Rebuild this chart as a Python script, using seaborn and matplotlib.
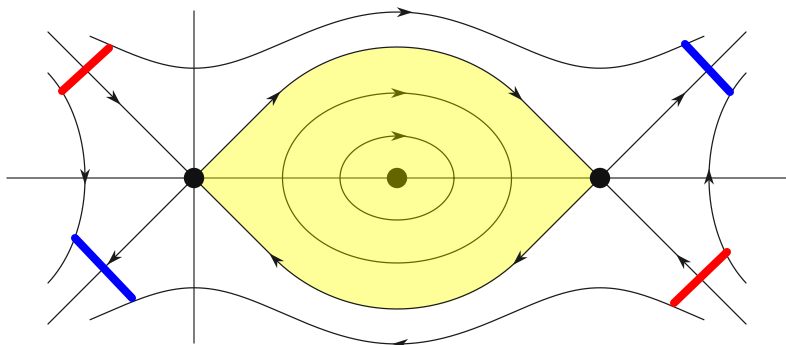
import numpy as np
import pandas as pd
import matplotlib
matplotlib.use("Agg")
import matplotlib.pyplot as plt
import seaborn as sns

sns.set_theme(style="white")

# Phase plane of the pendulum-like system: saddles at +-pi, centre at 0
saddle_x = [-np.pi, np.pi]
centre_xy = (0.0, 0.0)

# closed orbits around the centre (semi-axes)
orbit_a = [0.882, 1.772]
orbit_b = [0.650, 1.315]

# separatrix: straight run from each saddle, then a circular cap
sep_height = 2.027
sep_radius = (np.pi - sep_height) / (np.sqrt(2) - 1)

# rotating orbits y = +-k*sqrt(E + cos x)
rot_k = 1.362
rot_E = 2.556
rot_xmax = 4.75

# libration orbits around +-2pi (only their inner arcs are visible)
side_a = 1.455
side_b = 2.043
side_ymax = 1.625

# stable / unstable manifolds leaving the saddles
diag_len = 2.26

# transversal sections (x0, y0, x1, y1, colour)
bars_x0 = [-5.184, -4.983, 4.457, 4.287]
bars_y0 = [1.346, -0.929, 2.074, -1.934]
bars_x1 = [-4.457, -4.101, 5.153, 5.107]
bars_y1 = [2.012, -1.857, 1.331, -1.145]
bars_col = ["#ff0000", "#0000ff", "#0000ff", "#ff0000"]

PX = 203 / np.pi  # pixels per unit
fig = plt.figure(figsize=(7.86, 3.45), dpi=100)
ax = fig.add_axes([0, 0, 1, 1])
ax.set_xlim(-397 / PX, 389 / PX)
ax.set_ylim(-167 / PX, 178 / PX)
ax.set_axis_off()

LW = 0.9
INK = "#1a1a1a"


def curve(x, y, color=INK, lw=LW, z=4):
    df = pd.DataFrame({"x": x, "y": y})
    sns.lineplot(data=df, x="x", y="y", sort=False, estimator=None,
                 color=color, linewidth=lw, ax=ax, zorder=z, legend=False)


def arrowhead(x, y, dx, dy, color=INK, z=5):
    d = np.array([dx, dy], float)
    d /= np.hypot(*d)
    n = np.array([-d[1], d[0]])
    L, W, notch = 16 / PX, 5.0 / PX, 4.8 / PX
    c = np.array([x, y])
    tip = c + d * L / 2
    back = c - d * L / 2
    pts = np.array([tip, back + n * W, back + d * notch, back - n * W])
    ax.fill(pts[:, 0], pts[:, 1], color=color, lw=0, zorder=z)


# coordinate axes
curve([-6.035, 389 / PX], [0, 0], color="#555555", lw=1.1, z=1)
curve([-np.pi, -np.pi], [-2.553, 2.584], color="#555555", lw=1.1, z=1)

# closed orbits around the centre (sit under the shaded basin)
t = np.linspace(0, 2 * np.pi, 400)
for a, b in zip(orbit_a, orbit_b):
    curve(a * np.cos(t), b * np.sin(t), color="black", lw=LW, z=2)
    arrowhead(0.03, b, 1, 0, color="black", z=2)
sns.scatterplot(x=[centre_xy[0]], y=[centre_xy[1]], s=215, color="black",
                edgecolor="none", ax=ax, zorder=2, legend=False)

# separatrix (heteroclinic orbits)
ang = np.linspace(3 * np.pi / 4, np.pi / 4, 200)
cy = sep_height - sep_radius
top_x = np.concatenate([[-np.pi], sep_radius * np.cos(ang), [np.pi]])
top_y = np.concatenate([[0], cy + sep_radius * np.sin(ang), [0]])
ax.fill_between(top_x, top_y, -top_y, color="#ffff00", alpha=0.4,
                lw=0, zorder=3)
curve(top_x, top_y)
curve(top_x, -top_y)
arrowhead(-1.888, 1.254, 1, 1)
arrowhead(1.857, 1.285, 1, -1)
arrowhead(-1.888, -1.254, -1, 1)
arrowhead(1.88, -1.26, -1, -1)

# rotating orbits above and below
xr = np.linspace(-rot_xmax, rot_xmax, 500)
yr = rot_k * np.sqrt(rot_E + np.cos(xr))
curve(xr, yr)
curve(xr, -yr)
arrowhead(0.12, rot_k * np.sqrt(rot_E + np.cos(0.12)), 1, 0)
arrowhead(0.05, -rot_k * np.sqrt(rot_E + np.cos(0.05)), -1, 0)

# libration arcs at the sides
ys = np.linspace(-side_ymax, side_ymax, 300)
xs = side_a * np.sqrt(1 - (ys / side_b) ** 2)
curve(-2 * np.pi + xs, ys)
curve(2 * np.pi - xs, ys)
arrowhead(-2 * np.pi + side_a, 0.02, 0, -1)
arrowhead(2 * np.pi - side_a, 0.02, 0, 1)

# outer manifolds of the saddles
for sx, sgn in zip(saddle_x, [-1, 1]):
    curve([sx, sx + sgn * diag_len], [0, diag_len])
    curve([sx, sx + sgn * diag_len], [0, -diag_len])
arrowhead(-4.364, 1.222, 1, -1)
arrowhead(-4.395, -1.254, -1, -1)
arrowhead(4.379, 1.238, 1, 1)
arrowhead(4.41, -1.27, -1, 1)

# transversal sections
for x0, y0, x1, y1, c in zip(bars_x0, bars_y0, bars_x1, bars_y1, bars_col):
    ax.plot([x0, x1], [y0, y1], color=c, lw=5.8, solid_capstyle="round",
            zorder=6)

# saddle points
sns.scatterplot(x=saddle_x, y=[0, 0], s=215, color="#111111",
                edgecolor="none", ax=ax, zorder=7, legend=False)

fig.savefig("out.png", dpi=100)
